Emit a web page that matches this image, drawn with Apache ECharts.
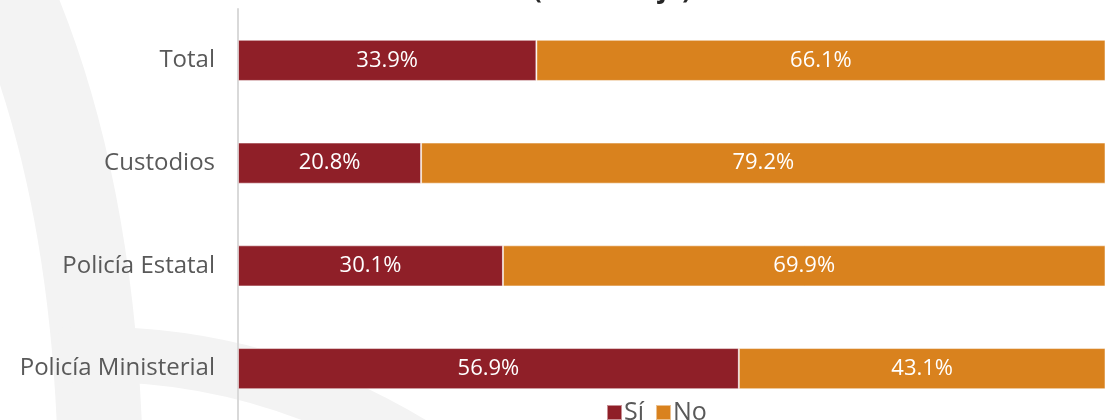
<!DOCTYPE html>
<html>
<head>
<meta charset="utf-8">
<script src="https://cdn.jsdelivr.net/npm/echarts@6/dist/echarts.min.js"></script>
<style>
    html, body { margin: 0; padding: 0; background: #fff; }
    #chart { width: 1105px; height: 420px; }
</style>
</head>
<body>
<div id="chart"></div>
<script>
// 类别（从上到下）
var categories = ['Total', 'Custodios', 'Policía Estatal', 'Policía Ministerial'];
// 系列数值（百分比）
var siValues = [33.9, 20.8, 30.1, 56.9];
var noValues = [66.1, 79.2, 69.9, 43.1];
var seriesNames = ['Sí', 'No'];

window.onload = function () {
    initChart();
}

// 初始化图表
function initChart() {
    var font = '"Open Sans", sans-serif';
    var chart = echarts.init(document.getElementById('chart'));

    function barSeries(name, data, color) {
        return {
            name: name,
            type: 'bar',
            stack: 'total',
            barWidth: '40%',
            data: data,
            itemStyle: {
                color: color,
                borderColor: 'rgba(255,255,255,0.5)',
                borderWidth: 1
            },
            label: {
                show: true,
                position: 'inside',
                formatter: '{c}%',
                color: '#fff',
                fontSize: 22,
                fontFamily: font
            }
        };
    }

    chart.setOption({
        animation: false,
        // 背景水印
        graphic: [
            {
                type: 'bezierCurve',
                z: -10,
                silent: true,
                shape: { x1: 0, y1: -30, x2: 100, y2: 440, cpx1: 90, cpy1: 160 },
                style: { stroke: '#f3f3f3', lineWidth: 85, fill: null }
            },
            {
                type: 'bezierCurve',
                z: -10,
                silent: true,
                shape: { x1: 60, y1: 355, x2: 430, y2: 455, cpx1: 260, cpy1: 345 },
                style: { stroke: '#f3f3f3', lineWidth: 55, fill: null }
            }
        ],
        title: {
            text: '(Porcentaje)',
            left: 528,
            top: -27,
            textStyle: { fontSize: 26, fontWeight: 'bold', color: '#262626', fontFamily: font }
        },
        legend: {
            data: seriesNames,
            left: 601,
            top: 395,
            icon: 'rect',
            itemWidth: 15,
            itemHeight: 15,
            itemGap: 11,
            textStyle: { fontSize: 25, color: '#595959', fontFamily: font, padding: [0, 0, 0, -3] }
        },
        grid: {
            left: 238,
            top: 9,
            right: 0,
            height: 411
        },
        // 100% 落在画布右侧之外
        xAxis: {
            type: 'value',
            min: 0,
            max: 98.5,
            show: false
        },
        yAxis: {
            type: 'category',
            data: categories,
            inverse: true,
            axisLine: { lineStyle: { color: '#d9d9d9', width: 2 } },
            axisTick: { show: false },
            axisLabel: { fontSize: 24, color: '#595959', margin: 23, fontFamily: font }
        },
        series: [
            barSeries(seriesNames[0], siValues, '#8f1f28'),
            barSeries(seriesNames[1], noValues, '#d9821e')
        ]
    });
}
</script>
</body>
</html>
